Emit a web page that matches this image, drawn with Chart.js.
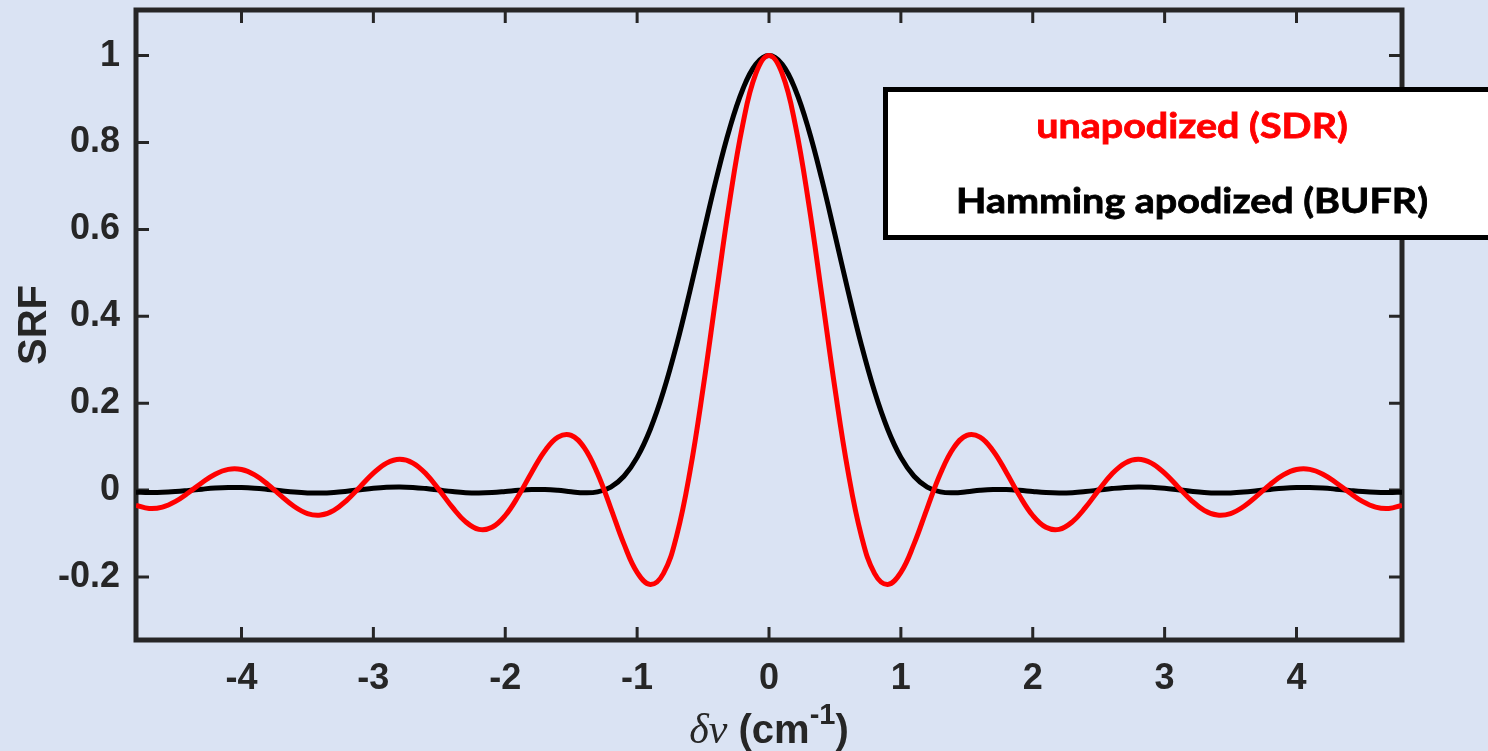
<!DOCTYPE html>
<html>
<head>
<meta charset="utf-8">
<script src="https://cdn.jsdelivr.net/npm/chart.js@4.4.0/dist/chart.umd.min.js"></script>
<style>
  html, body { margin: 0; padding: 0; background: #dae3f3; }
  #wrap { width: 1488px; height: 751px; }
</style>
</head>
<body>
<div id="wrap"><canvas id="srf" width="1488" height="751"></canvas></div>
<script>
// spectral offset (cm^-1)
const dnu = [
  -4.8, -4.7, -4.6, -4.5, -4.4, -4.3, -4.2, -4.1, -4.0, -3.9,
  -3.8, -3.7, -3.6, -3.5, -3.4, -3.3, -3.2, -3.1, -3.0, -2.9,
  -2.8, -2.7, -2.6, -2.5, -2.4, -2.3, -2.2, -2.1, -2.0, -1.9,
  -1.8, -1.7, -1.6, -1.5, -1.4, -1.3, -1.2, -1.1, -1.0, -0.9,
  -0.8, -0.7, -0.6, -0.5, -0.4, -0.3, -0.2, -0.1,
  0.0,
  0.1, 0.2, 0.3, 0.4, 0.5, 0.6, 0.7, 0.8, 0.9, 1.0,
  1.1, 1.2, 1.3, 1.4, 1.5, 1.6, 1.7, 1.8, 1.9, 2.0,
  2.1, 2.2, 2.3, 2.4, 2.5, 2.6, 2.7, 2.8, 2.9, 3.0,
  3.1, 3.2, 3.3, 3.4, 3.5, 3.6, 3.7, 3.8, 3.9, 4.0,
  4.1, 4.2, 4.3, 4.4, 4.5, 4.6, 4.7, 4.8
];

// unapodized (SDR)
const srfUnapodized = [
  -0.0350, -0.0422, -0.0391, -0.0260, -0.0057, 0.0170, 0.0365, 0.0477, 0.0473, 0.0349,
  0.0130, -0.0134, -0.0378, -0.0541, -0.0575, -0.0465, -0.0229, 0.0080, 0.0390, 0.0621,
  0.0709, 0.0622, 0.0369, 0.0000, -0.0399, -0.0730, -0.0903, -0.0857, -0.0585, -0.0131,
  0.0407, 0.0902, 0.1221, 0.1261, 0.0973, 0.0381, -0.0412, -0.1238, -0.1892, -0.2171,
  -0.1916, -0.1046, 0.0416, 0.2339, 0.4500, 0.6618, 0.8399, 0.9584,
  1.0000,
  0.9584, 0.8399, 0.6618, 0.4500, 0.2339, 0.0416, -0.1046, -0.1916, -0.2171, -0.1892,
  -0.1238, -0.0412, 0.0381, 0.0973, 0.1261, 0.1221, 0.0902, 0.0407, -0.0131, -0.0585,
  -0.0857, -0.0903, -0.0730, -0.0399, 0.0000, 0.0369, 0.0622, 0.0709, 0.0621, 0.0390,
  0.0080, -0.0229, -0.0465, -0.0575, -0.0541, -0.0378, -0.0134, 0.0130, 0.0349, 0.0473,
  0.0477, 0.0365, 0.0170, -0.0057, -0.0260, -0.0391, -0.0422, -0.0350
];

// Hamming apodized (BUFR)
const srfHamming = [
  -0.0047, -0.0056, -0.0052, -0.0034, -0.0007, 0.0022, 0.0047, 0.0061, 0.0060, 0.0044,
  0.0016, -0.0016, -0.0046, -0.0065, -0.0068, -0.0054, -0.0026, 0.0009, 0.0043, 0.0066,
  0.0073, 0.0062, 0.0035, 0.0000, -0.0034, -0.0059, -0.0066, -0.0056, -0.0033, -0.0006,
  0.0013, 0.0014, -0.0006, -0.0039, -0.0062, -0.0041, 0.0070, 0.0319, 0.0753, 0.1401,
  0.2273, 0.3348, 0.4577, 0.5880, 0.7160, 0.8306, 0.9215, 0.9799,
  1.0000,
  0.9799, 0.9215, 0.8306, 0.7160, 0.5880, 0.4577, 0.3348, 0.2273, 0.1401, 0.0753,
  0.0319, 0.0070, -0.0041, -0.0062, -0.0039, -0.0006, 0.0014, 0.0013, -0.0006, -0.0033,
  -0.0056, -0.0066, -0.0059, -0.0034, 0.0000, 0.0035, 0.0062, 0.0073, 0.0066, 0.0043,
  0.0009, -0.0026, -0.0054, -0.0068, -0.0065, -0.0046, -0.0016, 0.0016, 0.0044, 0.0060,
  0.0061, 0.0047, 0.0022, -0.0007, -0.0034, -0.0052, -0.0056, -0.0047
];

const xTicks = [-4, -3, -2, -1, 0, 1, 2, 3, 4];
const yTicks = [-0.2, 0, 0.2, 0.4, 0.6, 0.8, 1];
const yTickLabels = ['-0.2', '0', '0.2', '0.4', '0.6', '0.8', '1'];
const legendLabels = ['unapodized (SDR)', 'Hamming apodized (BUFR)'];

const axisColor = '#262626';
const sans = '"Liberation Sans", Arial, Helvetica, sans-serif';

const toPoints = ys => dnu.map((x, i) => ({ x: x, y: ys[i] }));

// background fill
const bg = {
  id: 'bg',
  beforeDraw(chart) {
    const ctx = chart.ctx;
    ctx.save();
    ctx.fillStyle = '#dae3f3';
    ctx.fillRect(0, 0, chart.width, chart.height);
    ctx.restore();
  }
};

// box frame with inward ticks on all four sides
const frame = {
  id: 'frame',
  beforeDatasetsDraw(chart) {
    const { ctx, chartArea: a, scales } = chart;
    const len = 13;
    ctx.save();
    ctx.strokeStyle = axisColor;
    ctx.lineWidth = 3;
    ctx.beginPath();
    xTicks.forEach(v => {
      const px = scales.x.getPixelForValue(v);
      ctx.moveTo(px, a.top); ctx.lineTo(px, a.top + len);
      ctx.moveTo(px, a.bottom); ctx.lineTo(px, a.bottom - len);
    });
    yTicks.forEach(v => {
      const py = scales.y.getPixelForValue(v);
      ctx.moveTo(a.left, py); ctx.lineTo(a.left + len, py);
      ctx.moveTo(a.right, py); ctx.lineTo(a.right - len, py);
    });
    ctx.stroke();
    ctx.lineWidth = 5;
    ctx.strokeRect(a.left, a.top, a.right - a.left, a.bottom - a.top);
    ctx.restore();
  }
};

// x axis title: italic delta-nu plus bold units with superscript
const xTitle = {
  id: 'xTitle',
  afterDraw(chart) {
    const { ctx, chartArea: a } = chart;
    const parts = [
      { t: 'δν', f: 'italic 42px "Liberation Serif", "DejaVu Serif", serif', dy: 0 },
      { t: ' (cm', f: 'bold 40px ' + sans, dy: 0 },
      { t: '-1', f: 'bold 29px ' + sans, dy: -19 },
      { t: ')', f: 'bold 40px ' + sans, dy: 0 }
    ];
    ctx.save();
    ctx.fillStyle = axisColor;
    ctx.textBaseline = 'alphabetic';
    ctx.textAlign = 'left';
    let total = 0;
    parts.forEach(p => { ctx.font = p.f; p.w = ctx.measureText(p.t).width; total += p.w; });
    let x = (a.left + a.right) / 2 - total / 2;
    const base = 743;
    parts.forEach(p => {
      ctx.font = p.f;
      ctx.fillText(p.t, x, base + p.dy);
      x += p.w;
    });
    ctx.restore();
  }
};

// boxed legend with coloured, centred text
const boxLegend = {
  id: 'boxLegend',
  afterDraw(chart) {
    const ctx = chart.ctx;
    const left = 885.5, top = 89.5, bottom = 237.5;
    ctx.save();
    ctx.fillStyle = '#ffffff';
    ctx.fillRect(left, top, 700, bottom - top);
    ctx.lineWidth = 5;
    ctx.strokeStyle = '#000000';
    ctx.strokeRect(left, top, 700, bottom - top);

    ctx.font = 'bold 35px Lato, "Open Sans", sans-serif';
    ctx.textAlign = 'center';
    ctx.textBaseline = 'alphabetic';
    const sx = 472 / ctx.measureText(legendLabels[1]).width;
    const baselines = [138, 213];
    const colors = ['#ff0000', '#000000'];
    legendLabels.forEach((t, i) => {
      ctx.save();
      ctx.translate(1192, baselines[i]);
      ctx.scale(sx, 1);
      ctx.fillStyle = colors[i];
      ctx.strokeStyle = colors[i];
      ctx.lineWidth = 0.8;
      ctx.fillText(t, 0, 0);
      ctx.strokeText(t, 0, 0);
      ctx.restore();
    });
    ctx.restore();
  }
};

new Chart(document.getElementById('srf'), {
  type: 'line',
  data: {
    datasets: [
      {
        label: legendLabels[0],
        data: toPoints(srfUnapodized),
        borderColor: '#ff0000',
        borderWidth: 5,
        pointRadius: 0,
        tension: 0.4,
        fill: false,
        clip: 0,
        order: 0
      },
      {
        label: legendLabels[1],
        data: toPoints(srfHamming),
        borderColor: '#000000',
        borderWidth: 5,
        pointRadius: 0,
        tension: 0.4,
        fill: false,
        clip: 0,
        order: 1
      }
    ]
  },
  options: {
    responsive: false,
    animation: false,
    devicePixelRatio: 1,
    layout: { padding: { left: 0, right: 86, top: 10, bottom: 0 } },
    plugins: {
      legend: { display: false },
      tooltip: { enabled: false }
    },
    scales: {
      x: {
        type: 'linear',
        min: -4.8,
        max: 4.8,
        afterBuildTicks: s => { s.ticks = xTicks.map(v => ({ value: v })); },
        afterFit: s => { s.height = 111; s.paddingLeft = 0; s.paddingRight = 0; },
        grid: { display: false },
        border: { display: false },
        ticks: {
          padding: 9,
          color: axisColor,
          font: { family: sans, size: 36, weight: 'bold' },
          maxRotation: 0,
          callback: v => String(v)
        }
      },
      y: {
        type: 'linear',
        min: -0.345,
        max: 1.105,
        afterBuildTicks: s => { s.ticks = yTicks.map(v => ({ value: v })); },
        afterFit: s => { s.width = 136; s.paddingTop = 0; s.paddingBottom = 0; },
        grid: { display: false },
        border: { display: false },
        ticks: {
          padding: 8,
          color: axisColor,
          font: { family: sans, size: 36, weight: 'bold' },
          callback: v => yTickLabels[yTicks.indexOf(v)]
        },
        title: {
          display: true,
          text: 'SRF',
          color: axisColor,
          font: { family: sans, size: 40, weight: 'bold' },
          padding: { top: 11, bottom: 0 }
        }
      }
    }
  },
  plugins: [bg, frame, xTitle, boxLegend]
});
</script>
</body>
</html>
